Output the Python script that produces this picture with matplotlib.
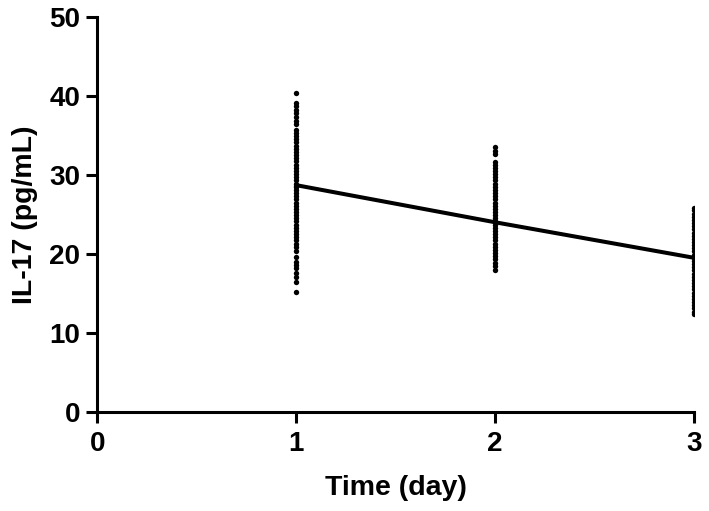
import matplotlib
matplotlib.use("Agg")
import matplotlib.pyplot as plt

# IL-17 values for each day
days = [1, 2, 3]
day1_values = [40.4, 39.1, 38.7, 38.2, 37.8, 37.3, 36.8, 36.5,
               35.7, 35.3, 34.9, 34.5, 34.1, 33.7, 33.3, 32.9, 32.5, 32.1, 31.7, 31.3,
               30.9, 30.5, 30.1, 29.7, 29.3, 28.9, 28.5, 28.1, 27.7, 27.3, 26.9, 26.5,
               26.1, 25.7, 25.3, 24.9, 24.5, 24.1, 23.7, 23.3, 22.9, 22.5, 22.1, 21.7,
               21.3, 20.9,
               20.3, 19.6, 19.0, 18.6, 18.2, 17.6, 17.1, 16.5, 15.2]
day2_values = [33.5, 33.0, 32.6, 31.6,
               31.3, 30.9, 30.5, 30.1, 29.7, 29.3, 28.9, 28.5, 28.1, 27.7, 27.3, 26.9,
               26.5, 26.1, 25.7, 25.3, 24.9, 24.5, 24.1, 23.7, 23.3, 22.9, 22.5, 22.1,
               21.7, 21.3, 20.9, 20.5, 20.1, 19.7, 19.3, 18.9, 18.5, 18.0]
day3_values = [25.8, 25.5, 25.1, 24.7, 24.3, 23.9, 23.5, 23.1, 22.7, 22.3, 21.9, 21.5,
               21.1, 20.7, 20.3, 19.9, 19.5, 19.1, 18.7, 18.3, 17.9, 17.5, 17.1, 16.7,
               16.3, 15.9, 15.5, 15.1, 14.7, 14.3, 13.9, 13.5, 13.1, 12.7, 12.4]
means = [28.7, 24.0, 19.5]

x_ticks = [0, 1, 2, 3]
y_ticks = [0, 10, 20, 30, 40, 50]

plt.rcParams["font.family"] = ["Liberation Sans", "DejaVu Sans"]
plt.rcParams["font.weight"] = "bold"

fig = plt.figure(figsize=(7.09, 5.11), dpi=100)
ax = fig.add_axes([0.137, 0.194, 0.842, 0.773])

for d, vals in zip(days, [day1_values, day2_values, day3_values]):
    ax.scatter([d] * len(vals), vals, s=15, color="black", zorder=3, linewidths=0)

ax.plot(days, means, color="black", lw=2.9, zorder=4)

ax.set_xlim(0, 3)
ax.set_ylim(0, 50)
ax.set_xticks(x_ticks)
ax.set_yticks(y_ticks)
ax.tick_params(axis="both", labelsize=20, width=2.2, length=8, direction="out")
ax.tick_params(axis="x", pad=6)
ax.tick_params(axis="y", pad=4)
for lab in ax.get_xticklabels() + ax.get_yticklabels():
    lab.set_fontweight("bold")

ax.spines["top"].set_visible(False)
ax.spines["right"].set_visible(False)
ax.spines["left"].set_linewidth(2.2)
ax.spines["bottom"].set_linewidth(2.2)
for sp in ax.spines.values():
    sp.set_clip_on(False)

ax.set_xlabel("Time (day)", fontsize=20.5, fontweight="bold", labelpad=13)
ax.set_ylabel("IL-17 (pg/mL)", fontsize=20.5, fontweight="bold", labelpad=8)

fig.savefig("out.png", dpi=100)
